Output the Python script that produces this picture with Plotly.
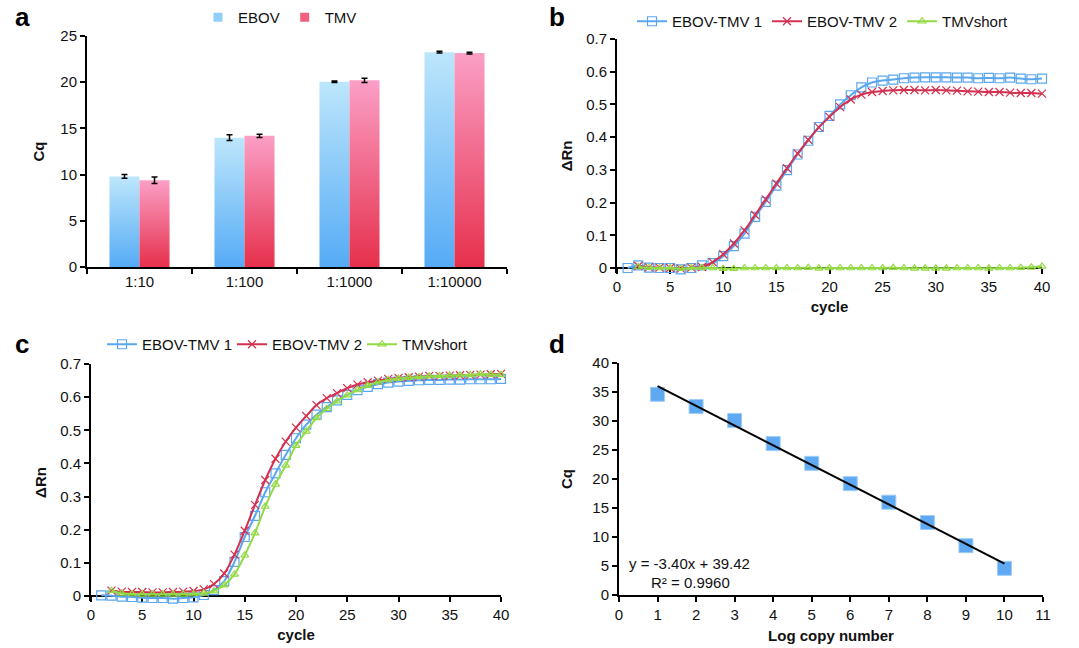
import plotly.graph_objects as go

FONT = "Liberation Sans, Arial, sans-serif"

# ---------------- Panel a data ----------------
dilutions = ["1:10", "1:100", "1:1000", "1:10000"]
ebov_cq = [9.8, 14.0, 20.05, 23.25]
ebov_err = [0.2, 0.3, 0.08, 0.1]
tmv_cq = [9.4, 14.2, 20.2, 23.15]
tmv_err = [0.35, 0.18, 0.22, 0.1]

# ---------------- Panel b data ----------------
cycles_b1 = list(range(1, 41))
b_ebov_tmv1 = [0.000, 0.008, 0.001, 0.000, 0.000, -0.004, 0.000, 0.008, 0.015, 0.036,
               0.067, 0.105, 0.156, 0.202, 0.252, 0.299, 0.347, 0.389, 0.431, 0.465,
               0.500, 0.528, 0.552, 0.567, 0.573, 0.576, 0.580, 0.582, 0.583, 0.583,
               0.583, 0.582, 0.582, 0.580, 0.581, 0.580, 0.582, 0.579, 0.577, 0.579]
cycles_b2 = list(range(2, 41))
b_ebov_tmv2 = [0.006, 0.002, 0.001, 0.000, -0.002, 0.001, 0.003, 0.018, 0.042,
               0.075, 0.115, 0.162, 0.210, 0.258, 0.305, 0.350, 0.392, 0.430, 0.462,
               0.492, 0.515, 0.530, 0.538, 0.541, 0.543, 0.544, 0.544, 0.543, 0.544,
               0.543, 0.542, 0.540, 0.539, 0.538, 0.538, 0.536, 0.535, 0.535, 0.533]
b_tmvshort = [0.003, 0.001, 0.000, 0.000, -0.002, 0.000, 0.001, 0.000, -0.002,
              -0.002, 0.000, 0.000, 0.000, 0.000, 0.000, 0.000, 0.001, -0.001, 0.000,
              0.000, 0.000, 0.000, 0.000, 0.000, 0.001, 0.000, -0.001, -0.001, -0.001,
              -0.001, 0.000, 0.000, 0.000, -0.001, 0.000, 0.000, 0.001, 0.002, 0.005]

# ---------------- Panel c data ----------------
cycles_c1 = list(range(1, 41))
c_ebov_tmv1 = [0.002, 0.001, -0.002, -0.003, -0.005, -0.006, -0.006, -0.008, -0.006, -0.004,
               0.003, 0.018, 0.045, 0.103, 0.178, 0.242, 0.313, 0.370, 0.426, 0.476,
               0.517, 0.547, 0.570, 0.590, 0.607, 0.621, 0.631, 0.639, 0.644, 0.647,
               0.649, 0.651, 0.652, 0.652, 0.653, 0.653, 0.654, 0.654, 0.654, 0.655]
cycles_c2 = list(range(2, 41))
c_ebov_tmv2 = [0.016, 0.013, 0.012, 0.012, 0.011, 0.011, 0.012, 0.013, 0.015,
               0.020, 0.036, 0.068, 0.125, 0.197, 0.275, 0.350, 0.414, 0.466, 0.508,
               0.543, 0.576, 0.597, 0.612, 0.627, 0.638, 0.645, 0.650, 0.655, 0.658,
               0.660, 0.662, 0.664, 0.664, 0.665, 0.666, 0.667, 0.668, 0.669, 0.670]
c_tmvshort = [0.016, 0.008, 0.006, 0.005, 0.005, 0.005, 0.005, 0.005, 0.006,
              0.008, 0.015, 0.033, 0.065, 0.123, 0.190, 0.270, 0.337, 0.394, 0.454,
              0.497, 0.537, 0.565, 0.588, 0.606, 0.622, 0.635, 0.645, 0.652, 0.656,
              0.659, 0.661, 0.663, 0.664, 0.665, 0.666, 0.667, 0.670, 0.668, 0.668]

# ---------------- Panel d data ----------------
log_copy = [1, 2, 3, 4, 5, 6, 7, 8, 9, 10]
d_cq = [34.6, 32.5, 30.1, 26.1, 22.7, 19.2, 16.0, 12.5, 8.5, 4.6]
fit_slope = -3.40
fit_intercept = 39.42
fit_r2 = 0.9960

# ---------------- styles ----------------
BLUE = "#5aa7ef"
RED = "#d4304f"
GREEN = "#93da44"
EBOV_TOP, EBOV_BOT = "#bde6fb", "#55abf6"
TMV_TOP, TMV_BOT = "#fb9fc6", "#e6304c"
TXT = "#111"

fig = go.Figure()

# ---- panel a: gradient bars drawn as filled polygons on a numeric axis ----
half = 0.286
for i, (ve, vt) in enumerate(zip(ebov_cq, tmv_cq)):
    fig.add_trace(go.Scatter(
        x=[i - half, i - half, i, i, i - half], y=[0, ve, ve, 0, 0],
        mode="lines", line=dict(width=0), fill="toself",
        fillgradient=dict(type="vertical", colorscale=[[0, EBOV_BOT], [1, EBOV_TOP]]),
        showlegend=False, hoverinfo="skip", xaxis="x", yaxis="y"))
    fig.add_trace(go.Scatter(
        x=[i, i, i + half, i + half, i], y=[0, vt, vt, 0, 0],
        mode="lines", line=dict(width=0), fill="toself",
        fillgradient=dict(type="vertical", colorscale=[[0, TMV_BOT], [1, TMV_TOP]]),
        showlegend=False, hoverinfo="skip", xaxis="x", yaxis="y"))

xc = list(range(len(dilutions)))
fig.add_trace(go.Scatter(
    x=[i - half / 2 for i in xc], y=ebov_cq, mode="markers",
    marker=dict(size=1, color="rgba(0,0,0,0)"),
    error_y=dict(type="data", array=ebov_err, color="black", thickness=1.5, width=3),
    showlegend=False, xaxis="x", yaxis="y"))
fig.add_trace(go.Scatter(
    x=[i + half / 2 for i in xc], y=tmv_cq, mode="markers",
    marker=dict(size=1, color="rgba(0,0,0,0)"),
    error_y=dict(type="data", array=tmv_err, color="black", thickness=1.5, width=3),
    showlegend=False, xaxis="x", yaxis="y"))
# legend entries for panel a
fig.add_trace(go.Scatter(x=[None], y=[None], mode="markers", name="EBOV",
                         marker=dict(symbol="square", size=9, color="#8fcff8"),
                         legend="legend", xaxis="x", yaxis="y"))
fig.add_trace(go.Scatter(x=[None], y=[None], mode="markers", name="TMV",
                         marker=dict(symbol="square", size=9, color="#f2607f"),
                         legend="legend", xaxis="x", yaxis="y"))


def curve(x, y, name, color, symbol, size, leg, xa, ya):
    return go.Scatter(
        x=x, y=y, name=name, mode="lines+markers",
        line=dict(color=color, width=2, shape="spline", smoothing=0.8),
        marker=dict(symbol=symbol, size=size, color=color, line=dict(color=color, width=1.2)),
        legend=leg, xaxis=xa, yaxis=ya, cliponaxis=False)


# ---- panel b ----
fig.add_trace(curve(cycles_b1, b_ebov_tmv1, "EBOV-TMV 1", BLUE, "square-open", 9, "legend2", "x2", "y2"))
fig.add_trace(curve(cycles_b2, b_ebov_tmv2, "EBOV-TMV 2", RED, "x-thin-open", 8, "legend2", "x2", "y2"))
fig.add_trace(curve(cycles_b2, b_tmvshort, "TMVshort", GREEN, "triangle-up-open", 7, "legend2", "x2", "y2"))

# ---- panel c ----
fig.add_trace(curve(cycles_c1, c_ebov_tmv1, "EBOV-TMV 1", BLUE, "square-open", 9, "legend3", "x3", "y3"))
fig.add_trace(curve(cycles_c2, c_ebov_tmv2, "EBOV-TMV 2", RED, "x-thin-open", 8, "legend3", "x3", "y3"))
fig.add_trace(curve(cycles_c2, c_tmvshort, "TMVshort", GREEN, "triangle-up-open", 7, "legend3", "x3", "y3"))

# ---- panel d ----
fig.add_trace(go.Scatter(x=log_copy, y=d_cq, mode="markers", showlegend=False,
                         marker=dict(symbol="square", size=14, color="#5ea9f2",
                                     line=dict(color="#9fcdf8", width=1)),
                         xaxis="x4", yaxis="y4"))
fit_x = [log_copy[0], log_copy[-1]]
fit_y = [fit_slope * v + fit_intercept for v in fit_x]
fig.add_trace(go.Scatter(x=fit_x, y=fit_y, mode="lines", showlegend=False,
                         line=dict(color="black", width=2), xaxis="x4", yaxis="y4"))

W, H = 1079, 648


def dom_x(a, b):
    return [a / W, b / W]


def dom_y(top, bottom):
    return [1 - bottom / H, 1 - top / H]


tickf = dict(family=FONT, size=15, color=TXT)
titlef = dict(family=FONT, size=15, color=TXT, weight="bold")
axis_common = dict(showline=True, linecolor="black", linewidth=2, showgrid=False, zeroline=False,
                   ticks="outside", ticklen=5, tickwidth=2, tickcolor="black", tickfont=tickf,
                   automargin=False)

# ΔRn panels: axis range dips slightly below 0 so small negative readings stay visible,
# while the cycle axis line sits at ΔRn = 0 like the original.
NEG = -0.015
b_top, b_zero = 39, 268
c_top, c_zero = 364, 596
b_bot = b_zero + (0 - NEG) * (b_zero - b_top) / 0.7
c_bot = c_zero + (0 - NEG) * (c_zero - c_top) / 0.7

leg_common = dict(orientation="h", xanchor="left", yanchor="top", itemwidth=30,
                  font=dict(family=FONT, size=15, color=TXT), bgcolor="rgba(0,0,0,0)")

fig.update_layout(
    width=W, height=H, margin=dict(l=0, r=0, t=0, b=0, autoexpand=False),
    paper_bgcolor="white", plot_bgcolor="white",
    font=dict(family=FONT, size=15, color=TXT),
    xaxis=dict(domain=dom_x(87, 507), range=[-0.5, 3.5], tickvals=xc, ticktext=dilutions,
               anchor="y", **{**axis_common, "ticks": ""},
               minor=dict(tickvals=[-0.5, 0.5, 1.5, 2.5, 3.5], ticks="outside", ticklen=5,
                          tickwidth=2, tickcolor="black")),
    yaxis=dict(domain=dom_y(36, 267), range=[0, 25], dtick=5, anchor="x",
               title=dict(text="Cq", font=titlef, standoff=12), **axis_common),
    xaxis2=dict(domain=dom_x(617, 1042), range=[0, 40], dtick=5, anchor="free",
                position=1 - b_zero / H, layer="below traces",
                title=dict(text="cycle", font=titlef, standoff=6), **axis_common),
    yaxis2=dict(domain=dom_y(b_top, b_bot), range=[NEG, 0.7], dtick=0.1, anchor="x2",
                title=dict(text="ΔRn", font=titlef, standoff=10), **axis_common),
    xaxis3=dict(domain=dom_x(91, 501), range=[0, 40], dtick=5, anchor="free",
                position=1 - c_zero / H, layer="below traces",
                title=dict(text="cycle", font=titlef, standoff=6), **axis_common),
    yaxis3=dict(domain=dom_y(c_top, c_bot), range=[NEG, 0.7], dtick=0.1, anchor="x3",
                title=dict(text="ΔRn", font=titlef, standoff=10), **axis_common),
    xaxis4=dict(domain=dom_x(619, 1043), range=[0, 11], dtick=1, anchor="y4",
                title=dict(text="Log copy number", font=titlef, standoff=8), **axis_common),
    yaxis4=dict(domain=dom_y(363, 595), range=[0, 40], dtick=5, anchor="x4",
                title=dict(text="Cq", font=titlef, standoff=16), **axis_common),
    legend=dict(x=198 / W, y=1 - 1 / H, **leg_common),
    legend2=dict(x=632 / W, y=1 - 5 / H, **leg_common),
    legend3=dict(x=102 / W, y=1 - 328 / H, entrywidth=85, **leg_common),
)

panel_font = dict(family=FONT, size=26, color="black", weight="bold")
for lab, px, py in [("a", 22, 17), ("b", 557, 17), ("c", 22, 344), ("d", 557, 344)]:
    fig.add_annotation(text=lab, x=px / W, y=1 - py / H, xref="paper", yref="paper",
                       showarrow=False, font=panel_font, xanchor="center", yanchor="middle")

fig.add_annotation(text=f"y = {fit_slope:.2f}x + {fit_intercept:.2f}", x=627 / W, y=1 - 563 / H,
                   xref="paper", yref="paper", showarrow=False, xanchor="left", yanchor="middle",
                   font=dict(family=FONT, size=15, color=TXT))
fig.add_annotation(text=f"R² = {fit_r2:.4f}", x=649 / W, y=1 - 582 / H,
                   xref="paper", yref="paper", showarrow=False, xanchor="left", yanchor="middle",
                   font=dict(family=FONT, size=15, color=TXT))

fig.write_html("out.html", config={"displayModeBar": False},
               post_script="document.body.style.margin='0';")
